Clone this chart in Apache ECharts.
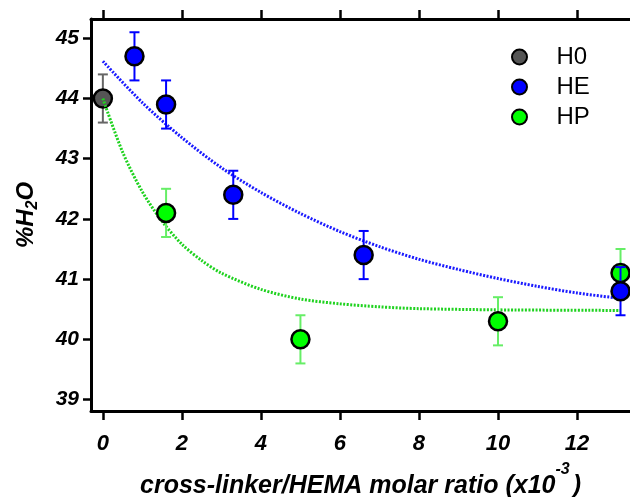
<!DOCTYPE html>
<html>
<head>
<meta charset="utf-8">
<script src="https://cdn.jsdelivr.net/npm/echarts@6/dist/echarts.min.js"></script>
<style>
  html, body { margin: 0; padding: 0; background: #fff; }
  #chart { width: 630px; height: 497px; }
</style>
</head>
<body>
<div id="chart"></div>
<script>

// Tick values
var xTicks = [0, 2, 4, 6, 8, 10, 12];
var yTicks = [39, 40, 41, 42, 43, 44, 45];

// Measured points: [x, %H2O, error]
var h0Points = [[0, 44.0, 0.4]];
var hePoints = [[0.8, 44.7, 0.4], [1.6, 43.9, 0.4], [3.3, 42.4, 0.4], [6.6, 41.4, 0.4], [13.1, 40.8, 0.4]];
var hpPoints = [[1.6, 42.1, 0.4], [5.0, 40.0, 0.4], [10.0, 40.3, 0.4], [13.1, 41.1, 0.4]];

// Fitted trend curves
var heFitX = [0, 1, 2, 3, 4, 5, 6, 7, 8, 9, 10, 11, 12, 13.1];
var heFitY = [44.62, 43.93, 43.35, 42.85, 42.44, 42.09, 41.79, 41.54, 41.33, 41.16, 41.01, 40.88, 40.77, 40.68];
var hpFitX = [0, 0.5, 1, 1.5, 2, 2.5, 3, 4, 5, 6, 7, 8, 10, 13.1];
var hpFitY = [44.0, 43.11, 42.45, 41.96, 41.58, 41.31, 41.10, 40.83, 40.67, 40.59, 40.54, 40.51, 40.49, 40.48];

var FONT = '"Liberation Sans", Arial, sans-serif';

function pairs(xs, ys) {
    return xs.map(function (x, i) { return [x, ys[i]]; });
}

// Draw a vertical error bar with caps
function errorBar(params, api) {
    var x = api.value(0), y = api.value(1), e = api.value(2);
    var hi = api.coord([x, y + e]);
    var lo = api.coord([x, y - e]);
    var half = 5;
    var style = { stroke: api.visual('color'), lineWidth: 2 };
    return {
        type: 'group',
        children: [
            { type: 'line', shape: { x1: hi[0], y1: hi[1], x2: lo[0], y2: lo[1] }, style: style },
            { type: 'line', shape: { x1: hi[0] - half, y1: hi[1], x2: hi[0] + half, y2: hi[1] }, style: style },
            { type: 'line', shape: { x1: lo[0] - half, y1: lo[1], x2: lo[0] + half, y2: lo[1] }, style: style }
        ]
    };
}

var chart = echarts.init(document.getElementById('chart'), null, { renderer: 'canvas' });

var boldItalic = {
    fontFamily: FONT,
    fontWeight: 'bold',
    fontStyle: 'italic',
    color: '#000'
};

var option = {
    animation: false,
    textStyle: { fontFamily: FONT },
    grid: { left: 91, right: 0, top: 19, bottom: 86, containLabel: false, outerBoundsMode: 'none' },

    legend: {
        data: ['H0', 'HE', 'HP'],
        orient: 'vertical',
        left: 506,
        top: 37,
        icon: 'circle',
        itemWidth: 64,
        itemHeight: 15,
        itemGap: 0,
        textStyle: { fontFamily: FONT, fontSize: 24, color: '#000', lineHeight: 30 }
    },

    xAxis: [
        {
            type: 'value',
            min: -0.3,
            max: 13.34,
            name: 'cross-linker/HEMA molar ratio (x10{sup|-3}{p|)}',
            nameLocation: 'middle',
            nameGap: 51,
            nameTextStyle: Object.assign({
                fontSize: 25,
                lineHeight: 48,
                rich: {
                    sup: Object.assign({ fontSize: 16, verticalAlign: 'top', lineHeight: 16 }, boldItalic),
                    p: Object.assign({ fontSize: 25, lineHeight: 48, padding: [0, 0, 0, 3] }, boldItalic)
                }
            }, boldItalic),
            axisLine: { onZero: false, lineStyle: { color: '#000', width: 3 } },
            axisTick: { length: 9, lineStyle: { color: '#000', width: 2.5 }, customValues: xTicks },
            axisLabel: Object.assign({ margin: 22, fontSize: 22, customValues: xTicks }, boldItalic),
            splitLine: { show: false }
        },
        {
            type: 'value',
            position: 'top',
            min: -0.3,
            max: 13.34,
            axisLine: { onZero: false, lineStyle: { color: '#000', width: 3 } },
            axisTick: { length: 9, lineStyle: { color: '#000', width: 2.5 }, customValues: xTicks },
            axisLabel: { show: false },
            splitLine: { show: false }
        }
    ],

    yAxis: {
        type: 'value',
        min: 38.81,
        max: 45.32,
        name: '%H{sub|2}O',
        nameLocation: 'middle',
        nameGap: 50,
        nameTextStyle: Object.assign({
            fontSize: 24,
            lineHeight: 30,
            rich: {
                sub: Object.assign({ fontSize: 16, verticalAlign: 'bottom', lineHeight: 16 }, boldItalic)
            }
        }, boldItalic),
        axisLine: { onZero: false, lineStyle: { color: '#000', width: 3 } },
        axisTick: { length: 8, lineStyle: { color: '#000', width: 2.5 }, customValues: yTicks },
        axisLabel: Object.assign({ margin: 12, fontSize: 21, customValues: yTicks }, boldItalic),
        splitLine: { show: false }
    },

    series: [
        {
            name: 'H0 err',
            type: 'custom',
            renderItem: errorBar,
            itemStyle: { color: '#666666' },
            data: h0Points,
            z: 2
        },
        {
            name: 'H0',
            type: 'scatter',
            symbol: 'circle',
            symbolSize: 18,
            itemStyle: { color: '#555555', borderColor: '#000', borderWidth: 2.5, opacity: 1 },
            data: h0Points.map(function (p) { return [p[0], p[1]]; }),
            z: 3
        },
        {
            name: 'HE fit',
            type: 'line',
            smooth: 0.3,
            showSymbol: false,
            lineStyle: { color: '#1a1aff', width: 3, type: [2, 1.5] },
            data: pairs(heFitX, heFitY),
            z: 4
        },
        {
            name: 'HP fit',
            type: 'line',
            smooth: 0.3,
            showSymbol: false,
            lineStyle: { color: '#1fd21f', width: 3, type: [2, 1.5] },
            data: pairs(hpFitX, hpFitY),
            z: 4
        },
        {
            name: 'HP err',
            type: 'custom',
            renderItem: errorBar,
            itemStyle: { color: '#66ee66' },
            data: hpPoints,
            z: 5
        },
        {
            name: 'HP',
            type: 'scatter',
            symbol: 'circle',
            symbolSize: 18,
            itemStyle: { color: '#00ff00', borderColor: '#000', borderWidth: 2.5, opacity: 1 },
            data: hpPoints.map(function (p) { return [p[0], p[1]]; }),
            z: 6
        },
        {
            name: 'HE err',
            type: 'custom',
            renderItem: errorBar,
            itemStyle: { color: '#0000ff' },
            data: hePoints,
            z: 7
        },
        {
            name: 'HE',
            type: 'scatter',
            symbol: 'circle',
            symbolSize: 18,
            itemStyle: { color: '#0000ff', borderColor: '#000', borderWidth: 2.5, opacity: 1 },
            data: hePoints.map(function (p) { return [p[0], p[1]]; }),
            z: 8
        }
    ]
};

chart.setOption(option);
</script>
</body>
</html>
